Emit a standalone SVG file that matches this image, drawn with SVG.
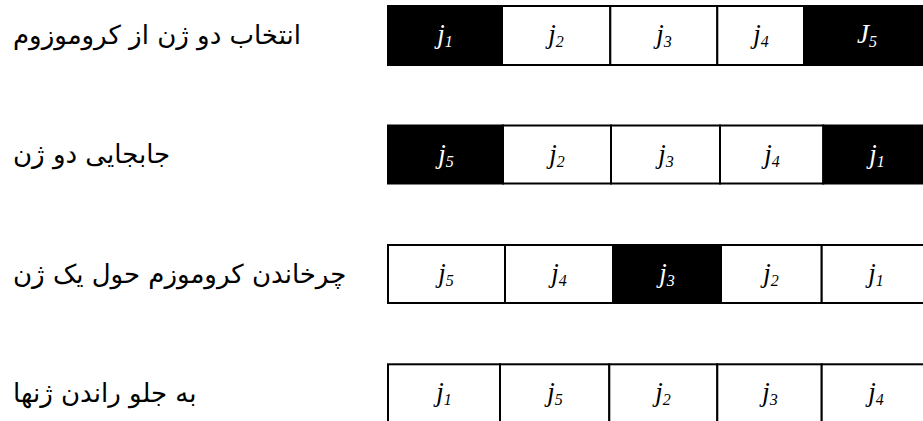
<svg xmlns="http://www.w3.org/2000/svg" width="923" height="421" viewBox="0 0 923 421">
<style>
.w{fill:#fff;stroke:#000;stroke-width:2}
.b{fill:#000;stroke:#000;stroke-width:2}
.g{font-family:"Liberation Serif","Times New Roman",serif;font-style:italic;font-size:27px;text-anchor:middle}
.gw{fill:#000}
.gb{fill:#fff}
.s{font-size:16px}
.fa{font-family:"DejaVu Sans",sans-serif;font-size:26px;fill:#000}
</style>
<rect width="923" height="421" fill="#fff"/>
<g id="labels">
<g id="label1"><text class="fa" x="13" y="44">انتخاب دو ژن از کروموزوم</text></g>
<g id="label2"><text class="fa" x="13" y="163">جابجایی دو ژن</text></g>
<g id="label3"><text class="fa" x="13" y="283">چرخاندن کروموزم حول یک ژن</text></g>
<g id="label4"><text class="fa" x="13" y="402">به جلو راندن ژنها</text></g>
</g>
<g id="row1">
<g id="r1c1"><rect class="b" x="388" y="6" width="114" height="59"/><text class="g gb" x="445" y="43">j<tspan class="s" dy="4">1</tspan></text></g>
<g id="r1c2"><rect class="w" x="502" y="6" width="108.3" height="59"/><text class="g gw" x="556" y="43">j<tspan class="s" dy="4">2</tspan></text></g>
<g id="r1c3"><rect class="w" x="610.3" y="6" width="107" height="59"/><text class="g gw" x="664" y="43">j<tspan class="s" dy="4">3</tspan></text></g>
<g id="r1c4"><rect class="w" x="717.3" y="6" width="86.7" height="59"/><text class="g gw" x="761" y="43">j<tspan class="s" dy="4">4</tspan></text></g>
<g id="r1c5"><rect class="b" x="804" y="6" width="126" height="59"/><text class="g gb" x="867" y="43">J<tspan class="s" dy="4">5</tspan></text></g>
</g>
<g id="row2">
<g id="r2c1"><rect class="b" x="388" y="125.5" width="115" height="58"/><text class="g gb" x="446" y="162.5">j<tspan class="s" dy="4">5</tspan></text></g>
<g id="r2c2"><rect class="w" x="503" y="125.5" width="108" height="58"/><text class="g gw" x="557" y="162.5">j<tspan class="s" dy="4">2</tspan></text></g>
<g id="r2c3"><rect class="w" x="611" y="125.5" width="109" height="58"/><text class="g gw" x="666" y="162.5">j<tspan class="s" dy="4">3</tspan></text></g>
<g id="r2c4"><rect class="w" x="720" y="125.5" width="103.3" height="58"/><text class="g gw" x="772" y="162.5">j<tspan class="s" dy="4">4</tspan></text></g>
<g id="r2c5"><rect class="b" x="823.3" y="125.5" width="106.7" height="58"/><text class="g gb" x="877" y="162.5">j<tspan class="s" dy="4">1</tspan></text></g>
</g>
<g id="row3">
<g id="r3c1"><rect class="w" x="388" y="245" width="117" height="58"/><text class="g gw" x="446" y="282">j<tspan class="s" dy="4">5</tspan></text></g>
<g id="r3c2"><rect class="w" x="505" y="245" width="108" height="58"/><text class="g gw" x="559" y="282">j<tspan class="s" dy="4">4</tspan></text></g>
<g id="r3c3"><rect class="b" x="613" y="245" width="108" height="58"/><text class="g gb" x="667" y="282">j<tspan class="s" dy="4">3</tspan></text></g>
<g id="r3c4"><rect class="w" x="721" y="245" width="100.7" height="58"/><text class="g gw" x="771" y="282">j<tspan class="s" dy="4">2</tspan></text></g>
<g id="r3c5"><rect class="w" x="821.7" y="245" width="108.3" height="58"/><text class="g gw" x="876" y="282">j<tspan class="s" dy="4">1</tspan></text></g>
</g>
<g id="row4">
<g id="r4c1"><rect class="w" x="388" y="364.3" width="112" height="60"/><text class="g gw" x="444" y="401">j<tspan class="s" dy="4">1</tspan></text></g>
<g id="r4c2"><rect class="w" x="500" y="364.3" width="109.3" height="60"/><text class="g gw" x="555" y="401">j<tspan class="s" dy="4">5</tspan></text></g>
<g id="r4c3"><rect class="w" x="609.3" y="364.3" width="108" height="60"/><text class="g gw" x="663" y="401">j<tspan class="s" dy="4">2</tspan></text></g>
<g id="r4c4"><rect class="w" x="717.3" y="364.3" width="104.4" height="60"/><text class="g gw" x="770" y="401">j<tspan class="s" dy="4">3</tspan></text></g>
<g id="r4c5"><rect class="w" x="821.7" y="364.3" width="108.3" height="60"/><text class="g gw" x="876" y="401">j<tspan class="s" dy="4">4</tspan></text></g>
</g>
</svg>
